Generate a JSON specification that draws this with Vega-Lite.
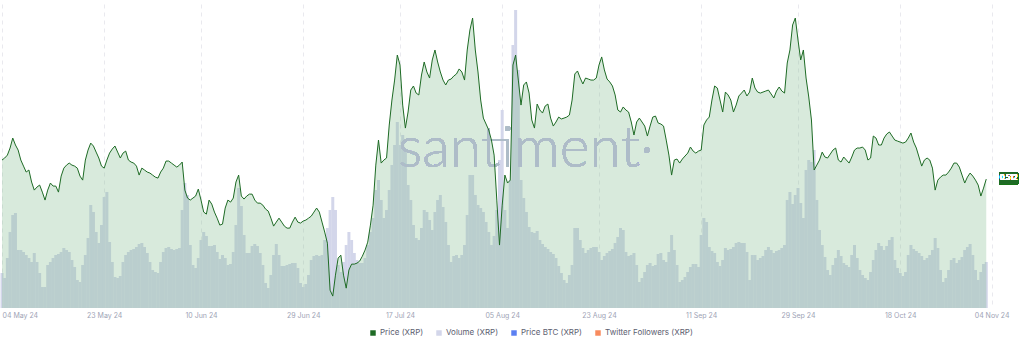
{
"$schema":"https://vega.github.io/schema/vega-lite/v6.json",
"width":995,"height":304,
"padding":{"left":0,"top":4,"right":0,"bottom":0},
"autosize":{"type":"pad"},
"background":"white",
"config":{"view":{"stroke":null},"font":"Inter"},
"data":{"values":[
{"t":"2024-05-04T00:00","p":0.5289,"v":1050},{"t":"2024-05-04T12:00","p":0.5307,"v":900},
{"t":"2024-05-05T00:00","p":0.5333,"v":1500},{"t":"2024-05-05T12:00","p":0.5396,"v":2280},
{"t":"2024-05-06T00:00","p":0.5485,"v":2790},{"t":"2024-05-06T12:00","p":0.5423,"v":2850},
{"t":"2024-05-07T00:00","p":0.5378,"v":1740},{"t":"2024-05-07T12:00","p":0.5289,"v":1740},
{"t":"2024-05-08T00:00","p":0.5235,"v":1680},{"t":"2024-05-08T12:00","p":0.5182,"v":1590},
{"t":"2024-05-09T00:00","p":0.5200,"v":1500},{"t":"2024-05-09T12:00","p":0.5093,"v":1380},
{"t":"2024-05-10T00:00","p":0.5021,"v":1650},{"t":"2024-05-10T12:00","p":0.5048,"v":1380},
{"t":"2024-05-11T00:00","p":0.5066,"v":1050},{"t":"2024-05-11T12:00","p":0.5003,"v":630},
{"t":"2024-05-12T00:00","p":0.4932,"v":630},{"t":"2024-05-12T12:00","p":0.5021,"v":1290},
{"t":"2024-05-13T00:00","p":0.5084,"v":1380},{"t":"2024-05-13T12:00","p":0.5057,"v":1500},
{"t":"2024-05-14T00:00","p":0.5057,"v":1590},{"t":"2024-05-14T12:00","p":0.5003,"v":1620},
{"t":"2024-05-15T00:00","p":0.5146,"v":1680},{"t":"2024-05-15T12:00","p":0.5217,"v":1800},
{"t":"2024-05-16T00:00","p":0.5244,"v":1740},{"t":"2024-05-16T12:00","p":0.5262,"v":1680},
{"t":"2024-05-17T00:00","p":0.5244,"v":1440},{"t":"2024-05-17T12:00","p":0.5235,"v":1230},
{"t":"2024-05-18T00:00","p":0.5217,"v":840},{"t":"2024-05-18T12:00","p":0.5146,"v":780},
{"t":"2024-05-19T00:00","p":0.5110,"v":1290},{"t":"2024-05-19T12:00","p":0.5289,"v":1590},
{"t":"2024-05-20T00:00","p":0.5378,"v":2100},{"t":"2024-05-20T12:00","p":0.5440,"v":3090},
{"t":"2024-05-21T00:00","p":0.5414,"v":2880},{"t":"2024-05-21T12:00","p":0.5360,"v":2280},
{"t":"2024-05-22T00:00","p":0.5307,"v":1950},{"t":"2024-05-22T12:00","p":0.5235,"v":2490},
{"t":"2024-05-23T00:00","p":0.5217,"v":3330},{"t":"2024-05-23T12:00","p":0.5289,"v":3480},
{"t":"2024-05-24T00:00","p":0.5351,"v":1980},{"t":"2024-05-24T12:00","p":0.5387,"v":1380},
{"t":"2024-05-25T00:00","p":0.5414,"v":930},{"t":"2024-05-25T12:00","p":0.5360,"v":900},
{"t":"2024-05-26T00:00","p":0.5307,"v":960},{"t":"2024-05-26T12:00","p":0.5351,"v":1380},
{"t":"2024-05-27T00:00","p":0.5369,"v":1590},{"t":"2024-05-27T12:00","p":0.5289,"v":1680},
{"t":"2024-05-28T00:00","p":0.5271,"v":1740},{"t":"2024-05-28T12:00","p":0.5262,"v":1770},
{"t":"2024-05-29T00:00","p":0.5235,"v":1830},{"t":"2024-05-29T12:00","p":0.5155,"v":1920},
{"t":"2024-05-30T00:00","p":0.5217,"v":1950},{"t":"2024-05-30T12:00","p":0.5200,"v":1830},
{"t":"2024-05-31T00:00","p":0.5182,"v":1650},{"t":"2024-05-31T12:00","p":0.5173,"v":1380},
{"t":"2024-06-01T00:00","p":0.5155,"v":1140},{"t":"2024-06-01T12:00","p":0.5137,"v":1080},
{"t":"2024-06-02T00:00","p":0.5128,"v":1050},{"t":"2024-06-02T12:00","p":0.5182,"v":1380},
{"t":"2024-06-03T00:00","p":0.5217,"v":1680},{"t":"2024-06-03T12:00","p":0.5280,"v":1800},
{"t":"2024-06-04T00:00","p":0.5280,"v":1830},{"t":"2024-06-04T12:00","p":0.5262,"v":1770},
{"t":"2024-06-05T00:00","p":0.5244,"v":1740},{"t":"2024-06-05T12:00","p":0.5226,"v":1770},
{"t":"2024-06-06T00:00","p":0.5244,"v":1800},{"t":"2024-06-06T12:00","p":0.5271,"v":2940},
{"t":"2024-06-07T00:00","p":0.5021,"v":3750},{"t":"2024-06-07T12:00","p":0.4950,"v":3390},
{"t":"2024-06-08T00:00","p":0.4932,"v":1890},{"t":"2024-06-08T12:00","p":0.4950,"v":1290},
{"t":"2024-06-09T00:00","p":0.4968,"v":1200},{"t":"2024-06-09T12:00","p":0.5030,"v":1500},
{"t":"2024-06-10T00:00","p":0.4932,"v":2040},{"t":"2024-06-10T12:00","p":0.4825,"v":2280},
{"t":"2024-06-11T00:00","p":0.4807,"v":2160},{"t":"2024-06-11T12:00","p":0.4932,"v":1860},
{"t":"2024-06-12T00:00","p":0.4896,"v":1860},{"t":"2024-06-12T12:00","p":0.4825,"v":1890},
{"t":"2024-06-13T00:00","p":0.4771,"v":1680},{"t":"2024-06-13T12:00","p":0.4709,"v":1470},
{"t":"2024-06-14T00:00","p":0.4718,"v":1590},{"t":"2024-06-14T12:00","p":0.4861,"v":1500},
{"t":"2024-06-15T00:00","p":0.4932,"v":1290},{"t":"2024-06-15T12:00","p":0.4914,"v":1320},
{"t":"2024-06-16T00:00","p":0.4950,"v":1680},{"t":"2024-06-16T12:00","p":0.5093,"v":2490},
{"t":"2024-06-17T00:00","p":0.5155,"v":3600},{"t":"2024-06-17T12:00","p":0.4968,"v":3060},
{"t":"2024-06-18T00:00","p":0.4941,"v":2190},{"t":"2024-06-18T12:00","p":0.4968,"v":1650},
{"t":"2024-06-19T00:00","p":0.4985,"v":1650},{"t":"2024-06-19T12:00","p":0.4985,"v":1860},
{"t":"2024-06-20T00:00","p":0.4932,"v":1920},{"t":"2024-06-20T12:00","p":0.4905,"v":1860},
{"t":"2024-06-21T00:00","p":0.4905,"v":1650},{"t":"2024-06-21T12:00","p":0.4887,"v":1290},
{"t":"2024-06-22T00:00","p":0.4852,"v":750},{"t":"2024-06-22T12:00","p":0.4834,"v":600},
{"t":"2024-06-23T00:00","p":0.4771,"v":990},{"t":"2024-06-23T12:00","p":0.4700,"v":1590},
{"t":"2024-06-24T00:00","p":0.4736,"v":1920},{"t":"2024-06-24T12:00","p":0.4771,"v":1590},
{"t":"2024-06-25T00:00","p":0.4736,"v":1260},{"t":"2024-06-25T12:00","p":0.4700,"v":1260},
{"t":"2024-06-26T00:00","p":0.4682,"v":1290},{"t":"2024-06-26T12:00","p":0.4682,"v":1320},
{"t":"2024-06-27T00:00","p":0.4736,"v":1350},{"t":"2024-06-27T12:00","p":0.4780,"v":1350},
{"t":"2024-06-28T00:00","p":0.4736,"v":1200},{"t":"2024-06-28T12:00","p":0.4727,"v":750},
{"t":"2024-06-29T00:00","p":0.4745,"v":630},{"t":"2024-06-29T12:00","p":0.4754,"v":720},
{"t":"2024-06-30T00:00","p":0.4771,"v":990},{"t":"2024-06-30T12:00","p":0.4789,"v":1440},
{"t":"2024-07-01T00:00","p":0.4825,"v":1560},{"t":"2024-07-01T12:00","p":0.4861,"v":1590},
{"t":"2024-07-02T00:00","p":0.4825,"v":1560},{"t":"2024-07-02T12:00","p":0.4736,"v":1590},
{"t":"2024-07-03T00:00","p":0.4647,"v":2040},{"t":"2024-07-03T12:00","p":0.4548,"v":2400},
{"t":"2024-07-04T00:00","p":0.4129,"v":2940},{"t":"2024-07-04T12:00","p":0.4076,"v":3330},
{"t":"2024-07-05T00:00","p":0.4263,"v":2940},{"t":"2024-07-05T12:00","p":0.4415,"v":1290},
{"t":"2024-07-06T00:00","p":0.4441,"v":1080},{"t":"2024-07-06T12:00","p":0.4263,"v":1380},
{"t":"2024-07-07T00:00","p":0.4147,"v":1890},{"t":"2024-07-07T12:00","p":0.4308,"v":2280},
{"t":"2024-07-08T00:00","p":0.4361,"v":2040},{"t":"2024-07-08T12:00","p":0.4361,"v":1650},
{"t":"2024-07-09T00:00","p":0.4370,"v":1440},{"t":"2024-07-09T12:00","p":0.4388,"v":1350},
{"t":"2024-07-10T00:00","p":0.4432,"v":1350},{"t":"2024-07-10T12:00","p":0.4486,"v":1500},
{"t":"2024-07-11T00:00","p":0.4557,"v":1890},{"t":"2024-07-11T12:00","p":0.4709,"v":2280},
{"t":"2024-07-12T00:00","p":0.4887,"v":2700},{"t":"2024-07-12T12:00","p":0.5244,"v":3540},
{"t":"2024-07-13T00:00","p":0.5467,"v":3840},{"t":"2024-07-13T12:00","p":0.5262,"v":3240},
{"t":"2024-07-14T00:00","p":0.5289,"v":2700},{"t":"2024-07-14T12:00","p":0.5307,"v":2940},
{"t":"2024-07-15T00:00","p":0.5601,"v":3540},{"t":"2024-07-15T12:00","p":0.5824,"v":4290},
{"t":"2024-07-16T00:00","p":0.6002,"v":4890},{"t":"2024-07-16T12:00","p":0.6225,"v":5580},
{"t":"2024-07-17T00:00","p":0.6136,"v":4890},{"t":"2024-07-17T12:00","p":0.5779,"v":5190},
{"t":"2024-07-18T00:00","p":0.5574,"v":4740},{"t":"2024-07-18T12:00","p":0.5717,"v":3690},
{"t":"2024-07-19T00:00","p":0.5913,"v":3240},{"t":"2024-07-19T12:00","p":0.5949,"v":2490},
{"t":"2024-07-20T00:00","p":0.5886,"v":2100},{"t":"2024-07-20T12:00","p":0.5869,"v":2040},
{"t":"2024-07-21T00:00","p":0.6047,"v":2400},{"t":"2024-07-21T12:00","p":0.6163,"v":2940},
{"t":"2024-07-22T00:00","p":0.6074,"v":2880},{"t":"2024-07-22T12:00","p":0.6020,"v":2640},
{"t":"2024-07-23T00:00","p":0.6181,"v":2340},{"t":"2024-07-23T12:00","p":0.6270,"v":2880},
{"t":"2024-07-24T00:00","p":0.6163,"v":3240},{"t":"2024-07-24T12:00","p":0.6074,"v":3390},
{"t":"2024-07-25T00:00","p":0.6002,"v":3030},{"t":"2024-07-25T12:00","p":0.5958,"v":2580},
{"t":"2024-07-26T00:00","p":0.6002,"v":1890},{"t":"2024-07-26T12:00","p":0.6011,"v":1380},
{"t":"2024-07-27T00:00","p":0.6038,"v":1560},{"t":"2024-07-27T12:00","p":0.6056,"v":1590},
{"t":"2024-07-28T00:00","p":0.6101,"v":1500},{"t":"2024-07-28T12:00","p":0.6074,"v":1590},
{"t":"2024-07-29T00:00","p":0.6002,"v":1890},{"t":"2024-07-29T12:00","p":0.6270,"v":2790},
{"t":"2024-07-30T00:00","p":0.6448,"v":3990},{"t":"2024-07-30T12:00","p":0.6555,"v":3990},
{"t":"2024-07-31T00:00","p":0.6270,"v":3390},{"t":"2024-07-31T12:00","p":0.6074,"v":3090},
{"t":"2024-08-01T00:00","p":0.5824,"v":3000},{"t":"2024-08-01T12:00","p":0.5663,"v":2880},
{"t":"2024-08-02T00:00","p":0.5610,"v":2580},{"t":"2024-08-02T12:00","p":0.5556,"v":2280},
{"t":"2024-08-03T00:00","p":0.5467,"v":1890},{"t":"2024-08-03T12:00","p":0.5333,"v":2160},
{"t":"2024-08-04T00:00","p":0.4932,"v":2940},{"t":"2024-08-04T12:00","p":0.4531,"v":4440},
{"t":"2024-08-05T00:00","p":0.4887,"v":5940},{"t":"2024-08-05T12:00","p":0.5155,"v":2940},
{"t":"2024-08-06T00:00","p":0.5084,"v":2400},{"t":"2024-08-06T12:00","p":0.5110,"v":3840},
{"t":"2024-08-07T00:00","p":0.6136,"v":7890},{"t":"2024-08-07T12:00","p":0.6225,"v":8940},
{"t":"2024-08-08T00:00","p":0.6002,"v":7140},{"t":"2024-08-08T12:00","p":0.5779,"v":3840},
{"t":"2024-08-09T00:00","p":0.5958,"v":3300},{"t":"2024-08-09T12:00","p":0.5985,"v":2880},
{"t":"2024-08-10T00:00","p":0.5886,"v":2430},{"t":"2024-08-10T12:00","p":0.5646,"v":2280},
{"t":"2024-08-11T00:00","p":0.5574,"v":2250},{"t":"2024-08-11T12:00","p":0.5788,"v":2310},
{"t":"2024-08-12T00:00","p":0.5735,"v":2040},{"t":"2024-08-12T12:00","p":0.5708,"v":1920},
{"t":"2024-08-13T00:00","p":0.5771,"v":1830},{"t":"2024-08-13T12:00","p":0.5788,"v":1770},
{"t":"2024-08-14T00:00","p":0.5663,"v":1680},{"t":"2024-08-14T12:00","p":0.5592,"v":1620},
{"t":"2024-08-15T00:00","p":0.5628,"v":1500},{"t":"2024-08-15T12:00","p":0.5672,"v":1260},
{"t":"2024-08-16T00:00","p":0.5655,"v":1050},{"t":"2024-08-16T12:00","p":0.5663,"v":840},
{"t":"2024-08-17T00:00","p":0.5672,"v":750},{"t":"2024-08-17T12:00","p":0.5690,"v":990},
{"t":"2024-08-18T00:00","p":0.5824,"v":1290},{"t":"2024-08-18T12:00","p":0.6056,"v":2400},
{"t":"2024-08-19T00:00","p":0.6083,"v":2400},{"t":"2024-08-19T12:00","p":0.6020,"v":2040},
{"t":"2024-08-20T00:00","p":0.5967,"v":1800},{"t":"2024-08-20T12:00","p":0.6020,"v":1650},
{"t":"2024-08-21T00:00","p":0.6011,"v":1740},{"t":"2024-08-21T12:00","p":0.6002,"v":1800},
{"t":"2024-08-22T00:00","p":0.6002,"v":1830},{"t":"2024-08-22T12:00","p":0.6020,"v":1830},
{"t":"2024-08-23T00:00","p":0.6136,"v":1680},{"t":"2024-08-23T12:00","p":0.6208,"v":1440},
{"t":"2024-08-24T00:00","p":0.6092,"v":1560},{"t":"2024-08-24T12:00","p":0.6011,"v":1650},
{"t":"2024-08-25T00:00","p":0.5985,"v":1710},{"t":"2024-08-25T12:00","p":0.5949,"v":1770},
{"t":"2024-08-26T00:00","p":0.5869,"v":1950},{"t":"2024-08-26T12:00","p":0.5735,"v":2130},
{"t":"2024-08-27T00:00","p":0.5717,"v":2400},{"t":"2024-08-27T12:00","p":0.5762,"v":2340},
{"t":"2024-08-28T00:00","p":0.5735,"v":1680},{"t":"2024-08-28T12:00","p":0.5717,"v":1560},
{"t":"2024-08-29T00:00","p":0.5628,"v":1590},{"t":"2024-08-29T12:00","p":0.5512,"v":1650},
{"t":"2024-08-30T00:00","p":0.5628,"v":1290},{"t":"2024-08-30T12:00","p":0.5663,"v":780},
{"t":"2024-08-31T00:00","p":0.5628,"v":900},{"t":"2024-08-31T12:00","p":0.5592,"v":1080},
{"t":"2024-09-01T00:00","p":0.5503,"v":1290},{"t":"2024-09-01T12:00","p":0.5592,"v":1350},
{"t":"2024-09-02T00:00","p":0.5672,"v":1260},{"t":"2024-09-02T12:00","p":0.5681,"v":1290},
{"t":"2024-09-03T00:00","p":0.5619,"v":1620},{"t":"2024-09-03T12:00","p":0.5610,"v":1650},
{"t":"2024-09-04T00:00","p":0.5592,"v":1440},{"t":"2024-09-04T12:00","p":0.5467,"v":1380},
{"t":"2024-09-05T00:00","p":0.5333,"v":1680},{"t":"2024-09-05T12:00","p":0.5155,"v":2190},
{"t":"2024-09-06T00:00","p":0.5289,"v":1740},{"t":"2024-09-06T12:00","p":0.5298,"v":1290},
{"t":"2024-09-07T00:00","p":0.5262,"v":780},{"t":"2024-09-07T12:00","p":0.5298,"v":840},
{"t":"2024-09-08T00:00","p":0.5325,"v":930},{"t":"2024-09-08T12:00","p":0.5351,"v":1080},
{"t":"2024-09-09T00:00","p":0.5405,"v":1230},{"t":"2024-09-09T12:00","p":0.5369,"v":1320},
{"t":"2024-09-10T00:00","p":0.5351,"v":1320},{"t":"2024-09-10T12:00","p":0.5369,"v":1230},
{"t":"2024-09-11T00:00","p":0.5378,"v":2190},{"t":"2024-09-11T12:00","p":0.5601,"v":2700},
{"t":"2024-09-12T00:00","p":0.5646,"v":2580},{"t":"2024-09-12T12:00","p":0.5672,"v":1830},
{"t":"2024-09-13T00:00","p":0.5824,"v":1710},{"t":"2024-09-13T12:00","p":0.5949,"v":1650},
{"t":"2024-09-14T00:00","p":0.5931,"v":1380},{"t":"2024-09-14T12:00","p":0.5824,"v":1260},
{"t":"2024-09-15T00:00","p":0.5717,"v":1440},{"t":"2024-09-15T12:00","p":0.5895,"v":1800},
{"t":"2024-09-16T00:00","p":0.5869,"v":1740},{"t":"2024-09-16T12:00","p":0.5824,"v":1770},
{"t":"2024-09-17T00:00","p":0.5717,"v":1830},{"t":"2024-09-17T12:00","p":0.5779,"v":1950},
{"t":"2024-09-18T00:00","p":0.5860,"v":1980},{"t":"2024-09-18T12:00","p":0.5886,"v":1950},
{"t":"2024-09-19T00:00","p":0.5913,"v":1950},{"t":"2024-09-19T12:00","p":0.5860,"v":1680},
{"t":"2024-09-20T00:00","p":0.5895,"v":840},{"t":"2024-09-20T12:00","p":0.6020,"v":1590},
{"t":"2024-09-21T00:00","p":0.5931,"v":1590},{"t":"2024-09-21T12:00","p":0.5895,"v":1440},
{"t":"2024-09-22T00:00","p":0.5886,"v":1500},{"t":"2024-09-22T12:00","p":0.5895,"v":1560},
{"t":"2024-09-23T00:00","p":0.5904,"v":1740},{"t":"2024-09-23T12:00","p":0.5913,"v":1830},
{"t":"2024-09-24T00:00","p":0.5878,"v":1740},{"t":"2024-09-24T12:00","p":0.5842,"v":1650},
{"t":"2024-09-25T00:00","p":0.5904,"v":1710},{"t":"2024-09-25T12:00","p":0.5940,"v":1740},
{"t":"2024-09-26T00:00","p":0.5904,"v":1800},{"t":"2024-09-26T12:00","p":0.5886,"v":1890},
{"t":"2024-09-27T00:00","p":0.6154,"v":3240},{"t":"2024-09-27T12:00","p":0.6270,"v":3480},
{"t":"2024-09-28T00:00","p":0.6493,"v":3120},{"t":"2024-09-28T12:00","p":0.6555,"v":3390},
{"t":"2024-09-29T00:00","p":0.6359,"v":3600},{"t":"2024-09-29T12:00","p":0.6181,"v":3150},
{"t":"2024-09-30T00:00","p":0.6270,"v":2700},{"t":"2024-09-30T12:00","p":0.6020,"v":4140},
{"t":"2024-10-01T00:00","p":0.5851,"v":4440},{"t":"2024-10-01T12:00","p":0.5646,"v":4380},
{"t":"2024-10-02T00:00","p":0.5200,"v":4740},{"t":"2024-10-02T12:00","p":0.5244,"v":3240},
{"t":"2024-10-03T00:00","p":0.5289,"v":2340},{"t":"2024-10-03T12:00","p":0.5360,"v":1890},
{"t":"2024-10-04T00:00","p":0.5316,"v":1530},{"t":"2024-10-04T12:00","p":0.5307,"v":1140},
{"t":"2024-10-05T00:00","p":0.5342,"v":990},{"t":"2024-10-05T12:00","p":0.5378,"v":1290},
{"t":"2024-10-06T00:00","p":0.5396,"v":1500},{"t":"2024-10-06T12:00","p":0.5289,"v":1740},
{"t":"2024-10-07T00:00","p":0.5271,"v":1560},{"t":"2024-10-07T12:00","p":0.5316,"v":1350},
{"t":"2024-10-08T00:00","p":0.5289,"v":1290},{"t":"2024-10-08T12:00","p":0.5262,"v":1230},
{"t":"2024-10-09T00:00","p":0.5316,"v":1590},{"t":"2024-10-09T12:00","p":0.5378,"v":1890},
{"t":"2024-10-10T00:00","p":0.5396,"v":1500},{"t":"2024-10-10T12:00","p":0.5396,"v":1140},
{"t":"2024-10-11T00:00","p":0.5405,"v":990},{"t":"2024-10-11T12:00","p":0.5378,"v":900},
{"t":"2024-10-12T00:00","p":0.5289,"v":840},{"t":"2024-10-12T12:00","p":0.5307,"v":1080},
{"t":"2024-10-13T00:00","p":0.5503,"v":1440},{"t":"2024-10-13T12:00","p":0.5485,"v":1740},
{"t":"2024-10-14T00:00","p":0.5423,"v":1950},{"t":"2024-10-14T12:00","p":0.5423,"v":1860},
{"t":"2024-10-15T00:00","p":0.5485,"v":1740},{"t":"2024-10-15T12:00","p":0.5521,"v":1860},
{"t":"2024-10-16T00:00","p":0.5539,"v":2040},{"t":"2024-10-16T12:00","p":0.5503,"v":2130},
{"t":"2024-10-17T00:00","p":0.5467,"v":1440},{"t":"2024-10-17T12:00","p":0.5458,"v":1200},
{"t":"2024-10-18T00:00","p":0.5449,"v":1050},{"t":"2024-10-18T12:00","p":0.5440,"v":960},
{"t":"2024-10-19T00:00","p":0.5449,"v":1080},{"t":"2024-10-19T12:00","p":0.5485,"v":1590},
{"t":"2024-10-20T00:00","p":0.5530,"v":1890},{"t":"2024-10-20T12:00","p":0.5449,"v":1770},
{"t":"2024-10-21T00:00","p":0.5396,"v":1710},{"t":"2024-10-21T12:00","p":0.5316,"v":1650},
{"t":"2024-10-22T00:00","p":0.5235,"v":1560},{"t":"2024-10-22T12:00","p":0.5289,"v":1440},
{"t":"2024-10-23T00:00","p":0.5307,"v":1500},{"t":"2024-10-23T12:00","p":0.5289,"v":1590},
{"t":"2024-10-24T00:00","p":0.5217,"v":1740},{"t":"2024-10-24T12:00","p":0.5021,"v":2100},
{"t":"2024-10-25T00:00","p":0.5110,"v":1800},{"t":"2024-10-25T12:00","p":0.5137,"v":1140},
{"t":"2024-10-26T00:00","p":0.5155,"v":780},{"t":"2024-10-26T12:00","p":0.5155,"v":900},
{"t":"2024-10-27T00:00","p":0.5182,"v":1140},{"t":"2024-10-27T12:00","p":0.5217,"v":1440},
{"t":"2024-10-28T00:00","p":0.5262,"v":1500},{"t":"2024-10-28T12:00","p":0.5262,"v":1350},
{"t":"2024-10-29T00:00","p":0.5226,"v":1440},{"t":"2024-10-29T12:00","p":0.5155,"v":1530},
{"t":"2024-10-30T00:00","p":0.5084,"v":1740},{"t":"2024-10-30T12:00","p":0.5137,"v":1830},
{"t":"2024-10-31T00:00","p":0.5173,"v":1920},{"t":"2024-10-31T12:00","p":0.5146,"v":1590},
{"t":"2024-11-01T00:00","p":0.5110,"v":1140},{"t":"2024-11-01T12:00","p":0.5066,"v":840},
{"t":"2024-11-02T00:00","p":0.4968,"v":1080},{"t":"2024-11-02T12:00","p":0.5039,"v":1320},
{"t":"2024-11-03T00:00","p":0.5119,"v":1380}
]},
"encoding":{
 "x":{"field":"t","type":"temporal","title":null,
  "scale":{"domain":[{"year":2024,"month":5,"date":4},{"year":2024,"month":11,"date":5}],"padding":0,"nice":false},
  "axis":{"values":[{"year":2024,"month":5,"date":4},{"year":2024,"month":5,"date":23},{"year":2024,"month":6,"date":10},{"year":2024,"month":6,"date":29},{"year":2024,"month":7,"date":17},{"year":2024,"month":8,"date":5},{"year":2024,"month":8,"date":23},{"year":2024,"month":9,"date":11},{"year":2024,"month":9,"date":29},{"year":2024,"month":10,"date":18},{"year":2024,"month":11,"date":4}],
   "format":"%d %b %y","labelFontSize":7,"labelColor":"#9ea3b5","labelFlush":true,"labelOverlap":false,"labelPadding":3,
   "grid":true,"gridColor":"#e9e9ee","gridDash":[4,4],"ticks":false,"domain":false}}
},
"layer":[
 {"mark":{"type":"bar","size":3},
  "encoding":{
   "y":{"field":"v","type":"quantitative","scale":{"domain":[0,9120]},"axis":null},
   "color":{"datum":"Volume (XRP)","type":"nominal",
    "scale":{"domain":["Price (XRP)","Volume (XRP)","Price BTC (XRP)","Twitter Followers (XRP)"],"range":["#1e6b25","#d3d6ea","#5b80f2","#f88b5e"]},
    "legend":{"title":null,"orient":"none","legendX":367,"legendY":325,"direction":"horizontal","symbolType":"square","symbolSize":30,"symbolStrokeWidth":0,"labelFontSize":8,"labelColor":"#5c6070","labelOffset":3,"columnPadding":11}}
  }},
 {"layer":[
   {"mark":{"type":"area","color":"#85bd92","opacity":0.32},
    "encoding":{"y":{"field":"p","type":"quantitative","scale":{"domain":[0.397,0.668]},"title":null,
      "axis":{"orient":"right","values":[0.397,0.431,0.465,0.498,0.532,0.566,0.6,0.634,0.668],"format":".3~f","labelFontSize":7,"labelColor":"#a7abb9","labelPadding":5,"grid":true,"gridColor":"#e9e9ee","gridDash":[4,4],"ticks":false,"domain":true,"domainColor":"#c5c7cf"}},
     "y2":{"datum":0.397}}},
   {"mark":{"type":"text","text":"santiment·","font":"Lato","fontWeight":300,"fontSize":57,"align":"center","baseline":"alphabetic","color":"#aebcc8","opacity":0.33},
    "encoding":{"x":{"datum":{"year":2024,"month":8,"date":9,"hours":10},"type":"temporal","scale":{"domain":[{"year":2024,"month":5,"date":4},{"year":2024,"month":11,"date":5}],"padding":0,"nice":false}},
     "y":{"datum":0.5226,"type":"quantitative","scale":{"domain":[0.397,0.668]},"axis":null}}},
   {"mark":{"type":"line","color":"#1e6b25","strokeWidth":1},
    "encoding":{"y":{"field":"p","type":"quantitative","scale":{"domain":[0.397,0.668]},"axis":null}}},
   {"mark":{"type":"rect","color":"#1e6b25"},
    "encoding":{"x":{"datum":{"year":2024,"month":11,"date":5,"hours":9},"type":"temporal","scale":{"domain":[{"year":2024,"month":5,"date":4},{"year":2024,"month":11,"date":5}],"padding":0,"nice":false}},
     "x2":{"datum":{"year":2024,"month":11,"date":8,"hours":22}},
     "y":{"datum":0.5175,"type":"quantitative","scale":{"domain":[0.397,0.668]},"axis":null},
     "y2":{"datum":0.5075}}},
   {"mark":{"type":"text","text":"0.512","fontSize":7,"color":"white","align":"center","baseline":"middle"},
    "encoding":{"x":{"datum":{"year":2024,"month":11,"date":7,"hours":4},"type":"temporal","scale":{"domain":[{"year":2024,"month":5,"date":4},{"year":2024,"month":11,"date":5}],"padding":0,"nice":false}},
     "y":{"datum":0.5125,"type":"quantitative","scale":{"domain":[0.397,0.668]},"axis":null}}}
 ]}
],
"resolve":{"scale":{"y":"independent"}}
}
